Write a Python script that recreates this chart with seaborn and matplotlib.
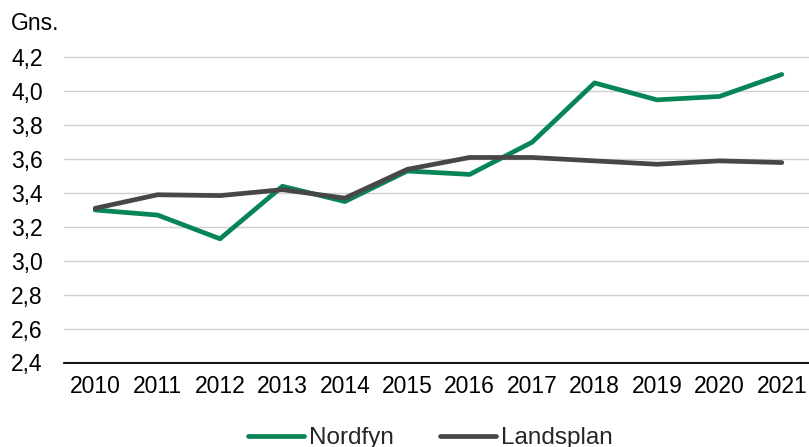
import matplotlib
matplotlib.use("Agg")
import matplotlib.pyplot as plt
import seaborn as sns
import pandas as pd
from matplotlib.ticker import FuncFormatter
from matplotlib.lines import Line2D

years = ["2010", "2011", "2012", "2013", "2014", "2015", "2016", "2017", "2018", "2019", "2020", "2021"]
nordfyn = [3.30, 3.27, 3.13, 3.44, 3.35, 3.53, 3.51, 3.70, 4.05, 3.95, 3.97, 4.10]
landsplan = [3.31, 3.39, 3.385, 3.42, 3.37, 3.54, 3.61, 3.61, 3.59, 3.57, 3.59, 3.58]
series_names = ["Nordfyn", "Landsplan"]
y_ticks = [2.4, 2.6, 2.8, 3.0, 3.2, 3.4, 3.6, 3.8, 4.0, 4.2]

df = pd.DataFrame({
    "year": years * 2,
    "value": nordfyn + landsplan,
    "series": [series_names[0]] * len(years) + [series_names[1]] * len(years),
})

sns.set_style("white")
plt.rcParams["font.family"] = ["Liberation Sans", "DejaVu Sans"]

fig = plt.figure(figsize=(8.09, 4.47), dpi=100)
ax = fig.add_axes([64 / 809, 1 - 362.5 / 447, 749 / 809, (362.5 - 57.5) / 447])

palette = {"Nordfyn": "#078556", "Landsplan": "#474747"}
sns.lineplot(data=df, x="year", y="value", hue="series", hue_order=series_names,
             palette=palette, linewidth=3.4, ax=ax, sort=False, legend=False,
             solid_capstyle="round", zorder=3)

ax.set_xlim(-0.5, len(years) - 0.5)
ax.set_ylim(2.4, 4.2)
ax.set_yticks(y_ticks)
ax.yaxis.set_major_formatter(FuncFormatter(lambda v, p: f"{v:.1f}".replace(".", ",")))
ax.grid(axis="y", color="#cfcfcf", linewidth=1.0, zorder=0)
ax.grid(axis="x", visible=False)
for gl in ax.get_ygridlines():
    gl.set_clip_on(False)
for s in ["top", "right", "left"]:
    ax.spines[s].set_visible(False)
ax.spines["bottom"].set_color("#000000")
ax.spines["bottom"].set_linewidth(1.3)
ax.spines["bottom"].set_zorder(4)
ax.tick_params(axis="both", length=0, labelsize=16.5, colors="#000000")
ax.tick_params(axis="x", pad=9)
ax.tick_params(axis="y", pad=38)
for lbl in ax.get_yticklabels():
    lbl.set_horizontalalignment("left")
ax.set_xlabel("")
ax.set_ylabel("")

fig.text(11 / 809, 1 - 23 / 447, "Gns.", fontsize=16.5, va="center", ha="left", color="#000000")

handles = [Line2D([0], [0], color=palette[n], linewidth=3.4, solid_capstyle="round") for n in series_names]
fig.legend(handles, series_names, loc="center", bbox_to_anchor=(0.532, 1 - 438 / 447),
           ncol=2, frameon=False, fontsize=17.5, handlelength=2.3, handletextpad=0.2,
           columnspacing=1.9)

fig.savefig("out.png", dpi=100)
